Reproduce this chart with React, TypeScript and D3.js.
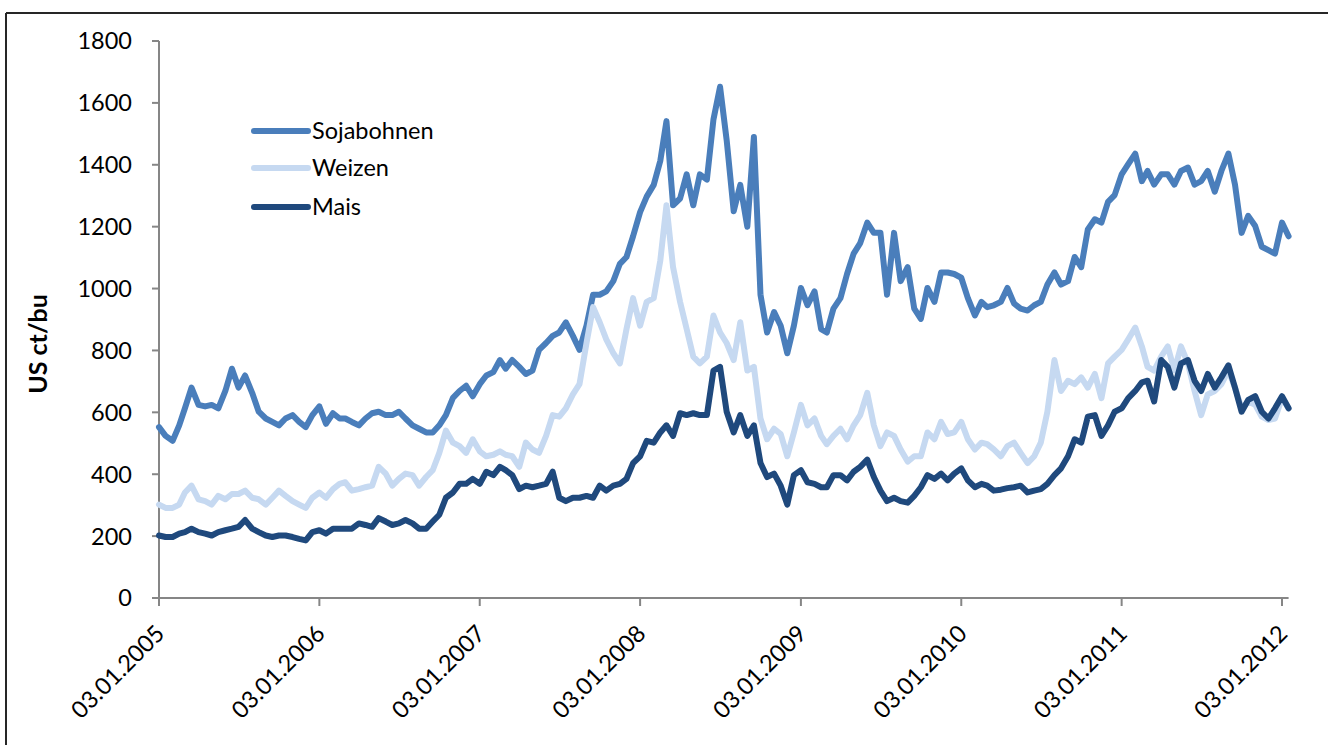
import React, { useEffect } from "react";
import * as d3 from "d3";

// Semi-monthly observations (3rd and 18th of each month), Jan 2005 – Jan 2012, US ct/bu
const sojabohnen = [
  552, 524, 508, 558, 613, 680, 624, 619, 624, 613,
  669, 741, 680, 719, 663, 602, 580, 569, 558, 580,
  591, 569, 552, 591, 619, 563, 597, 580, 580, 569,
  558, 580, 597, 602, 591, 591, 602, 580, 558, 547,
  535, 535, 558, 591, 647, 669, 686, 652, 691, 719,
  730, 769, 741, 769, 747, 724, 735, 802, 824, 847,
  858, 891, 847, 802, 880, 980, 980, 991, 1024, 1080,
  1102, 1169, 1247, 1297, 1335, 1413, 1541, 1269, 1291, 1369,
  1269, 1369, 1352, 1547, 1652, 1480, 1250, 1335, 1200, 1490,
  980, 858, 924, 880, 791, 880, 1002, 946, 991, 869,
  858, 935, 969, 1047, 1113, 1147, 1213, 1180, 1180, 980,
  1180, 1024, 1069, 935, 902, 1002, 957, 1052, 1052, 1047,
  1035, 969, 913, 957, 940, 946, 957, 1002, 952, 935,
  929, 946, 957, 1013, 1052, 1013, 1024, 1102, 1069, 1191,
  1224, 1213, 1280, 1302, 1369, 1402, 1436, 1347, 1380, 1336,
  1369, 1369, 1336, 1380, 1391, 1336, 1347, 1380, 1313, 1380,
  1436, 1336, 1180, 1235, 1202, 1135, 1124, 1113, 1213, 1169,
];

const weizen = [
  302, 291, 291, 302, 341, 363, 319, 313, 302, 330,
  319, 336, 336, 347, 324, 319, 302, 324, 347, 330,
  313, 302, 291, 324, 341, 324, 352, 369, 374, 347,
  352, 358, 363, 424, 402, 363, 385, 402, 397, 363,
  391, 413, 469, 541, 502, 491, 469, 513, 474, 458,
  463, 474, 463, 458, 424, 502, 480, 469, 524, 591,
  586, 613, 658, 691, 824, 940, 891, 836, 791, 758,
  869, 969, 880, 957, 969, 1091, 1269, 1069, 957, 869,
  780, 758, 780, 913, 858, 824, 769, 891, 735, 747,
  580, 513, 547, 530, 458, 535, 624, 558, 580, 524,
  497, 524, 547, 513, 558, 591, 663, 558, 491, 535,
  524, 480, 441, 458, 458, 535, 513, 569, 530, 535,
  569, 513, 480, 502, 497, 480, 458, 491, 502, 469,
  436, 458, 502, 602, 769, 669, 702, 691, 713, 680,
  724, 646, 758, 780, 802, 836, 874, 813, 747, 735,
  780, 813, 735, 813, 758, 669, 591, 658, 669, 691,
  735, 680, 613, 635, 624, 586, 575, 580, 646, 613,
];

const mais = [
  202, 197, 197, 208, 213, 224, 213, 208, 202, 213,
  219, 224, 230, 252, 224, 213, 202, 197, 202, 202,
  197, 191, 186, 213, 219, 208, 224, 224, 224, 224,
  241, 236, 230, 258, 247, 236, 241, 252, 241, 224,
  224, 247, 269, 324, 341, 369, 369, 385, 369, 408,
  397, 424, 413, 397, 352, 363, 358, 363, 369, 408,
  324, 313, 324, 324, 330, 324, 363, 347, 363, 369,
  385, 436, 458, 508, 502, 535, 558, 524, 597, 591,
  597, 591, 591, 735, 747, 602, 535, 591, 524, 558,
  436, 391, 402, 363, 302, 397, 413, 374, 369, 358,
  358, 397, 397, 380, 408, 424, 447, 391, 347, 313,
  324, 313, 308, 330, 358, 397, 385, 402, 380, 402,
  419, 380, 358, 369, 363, 347, 350, 355, 358, 363,
  341, 347, 352, 369, 397, 419, 458, 513, 502, 586,
  591, 524, 558, 602, 613, 646, 669, 697, 702, 635,
  769, 747, 680, 758, 769, 702, 669, 724, 680, 713,
  752, 680, 602, 640, 652, 602, 580, 613, 652, 613,
];

const seriesNames = ["Sojabohnen", "Weizen", "Mais"];
const yTicks = [0, 200, 400, 600, 800, 1000, 1200, 1400, 1600, 1800];
const xTickYears = [2005, 2006, 2007, 2008, 2009, 2010, 2011, 2012];
const xTickLabels = [
  "03.01.2005", "03.01.2006", "03.01.2007", "03.01.2008",
  "03.01.2009", "03.01.2010", "03.01.2011", "03.01.2012",
];
const yAxisTitle = "US ct/bu";

const dates = sojabohnen.map((_, k) => new Date(2005, Math.floor(k / 2), k % 2 === 0 ? 3 : 18));

const COLORS = ["#4A7EBB", "#C6D9F1", "#1F497D"];
const FONT = "Lato, 'Liberation Sans', sans-serif";
const AXIS = "#868686";

export default function App() {
  useEffect(() => {
    document.body.style.margin = "0";
  }, []);

  const x = d3
    .scaleTime()
    .domain([dates[0], dates[dates.length - 1]])
    .range([159, 1288.6]);
  const y = d3.scaleLinear().domain([0, 1800]).range([598, 41]);

  const line = d3
    .line<number>()
    .x((_, i) => x(dates[i]))
    .y((d) => y(d));

  const series = [sojabohnen, weizen, mais];
  const legendY = [131, 168, 207];

  return (
    <svg width={1328} height={745} style={{ display: "block", position: "absolute", left: 0, top: 0 }}>
      <rect x={0} y={0} width={1328} height={745} fill="#fff" />
      {/* frame */}
      <line x1={6} y1={13} x2={1328} y2={13} stroke="#262626" strokeWidth={2} />
      <line x1={6} y1={13} x2={6} y2={745} stroke="#262626" strokeWidth={2} />

      {/* y axis */}
      <line x1={159} y1={y(1800)} x2={159} y2={y(0)} stroke={AXIS} strokeWidth={2} />
      {yTicks.map((t) => (
        <g key={t}>
          <line x1={152} x2={159} y1={y(t)} y2={y(t)} stroke={AXIS} strokeWidth={2} />
          <text
            x={132}
            y={y(t)}
            dy="0.36em"
            textAnchor="end"
            fontFamily={FONT}
            fontSize={23.5}
            fill="#000"
          >
            {t}
          </text>
        </g>
      ))}
      <text
        transform={`translate(47,344) rotate(-90)`}
        textAnchor="middle"
        fontFamily={FONT}
        fontWeight="bold"
        fontSize={25}
        fill="#000"
      >
        {yAxisTitle}
      </text>

      {/* x axis */}
      <line x1={159} y1={598} x2={1288.6} y2={598} stroke={AXIS} strokeWidth={2} />
      {xTickYears.map((yr, i) => {
        const tx = x(new Date(yr, 0, 3));
        return (
          <g key={yr}>
            <line x1={tx} x2={tx} y1={598} y2={606} stroke={AXIS} strokeWidth={2} />
            <text
              transform={`translate(${tx + 7},635) rotate(-45)`}
              textAnchor="end"
              fontFamily={FONT}
              fontSize={23.5}
              fill="#000"
            >
              {xTickLabels[i]}
            </text>
          </g>
        );
      })}

      {/* series */}
      {series.map((s, i) => (
        <path
          key={seriesNames[i]}
          d={line(s) || ""}
          fill="none"
          stroke={COLORS[i]}
          strokeWidth={6}
          strokeLinejoin="round"
          strokeLinecap="round"
        />
      ))}

      {/* legend */}
      {seriesNames.map((n, i) => (
        <g key={n}>
          <line
            x1={254}
            x2={308}
            y1={legendY[i]}
            y2={legendY[i]}
            stroke={COLORS[i]}
            strokeWidth={6}
            strokeLinecap="round"
          />
          <text
            x={312}
            y={legendY[i]}
            dy="0.36em"
            fontFamily={FONT}
            fontSize={23.5}
            fill="#000"
          >
            {n}
          </text>
        </g>
      ))}
    </svg>
  );
}
